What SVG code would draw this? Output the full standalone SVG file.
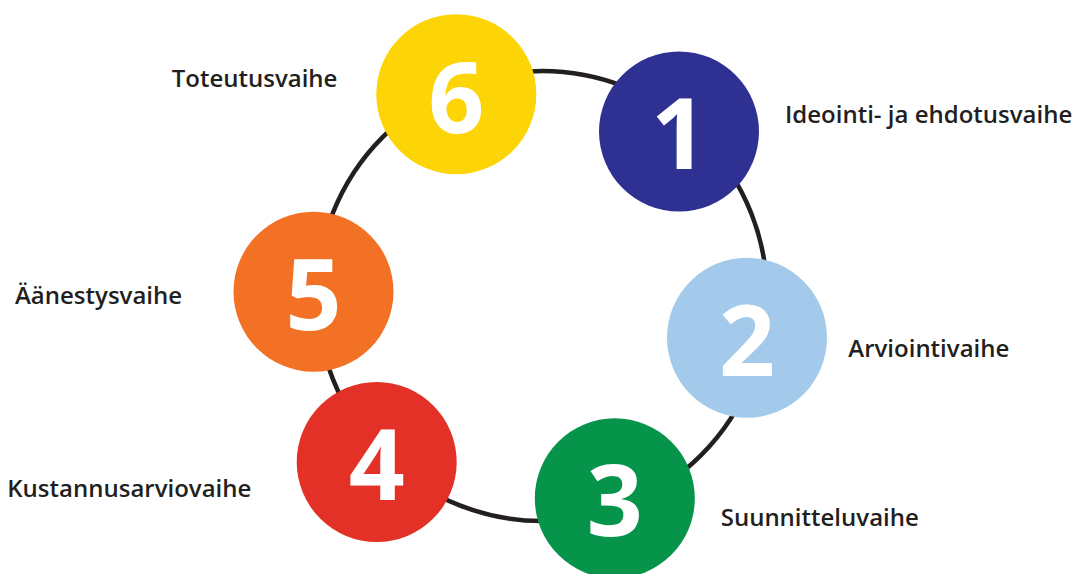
<svg xmlns="http://www.w3.org/2000/svg" width="1078" height="574" viewBox="0 0 1078 574">
<style>
.lbl{font-family:"Open Sans","Liberation Sans",sans-serif;font-weight:600;font-size:24px;fill:#231f20}
.num{font-family:"Open Sans","Liberation Sans",sans-serif;font-weight:700;font-size:98px;fill:#ffffff;text-anchor:middle}
</style>
<rect width="1078" height="574" fill="#ffffff"/>
<g id="connectors">
<circle cx="542" cy="296" r="225" fill="none" stroke="#231f20" stroke-width="4.5"/>
</g>
<g id="node6">
<circle cx="456.3" cy="94.2" r="80" fill="#fdd405"/>
<text class="num" x="456.3" y="133">6</text>
<text class="lbl" x="171.7" y="87.3">Toteutusvaihe</text>
</g>
<g id="node1">
<circle cx="679" cy="131.5" r="80" fill="#2e3192"/>
<text class="num" x="679" y="169.3">1</text>
<text class="lbl" x="785" y="122.7">Ideointi- ja ehdotusvaihe</text>
</g>
<g id="node2">
<circle cx="747" cy="337.7" r="80" fill="#a3caeb"/>
<text class="num" x="747" y="375.7">2</text>
<text class="lbl" x="848.3" y="356.7">Arviointivaihe</text>
</g>
<g id="node3">
<circle cx="614.8" cy="498.3" r="80" fill="#06934a"/>
<text class="num" x="614.8" y="536.3">3</text>
<text class="lbl" x="720.7" y="526">Suunnitteluvaihe</text>
</g>
<g id="node4">
<circle cx="376.7" cy="462" r="80" fill="#e43127"/>
<text class="num" x="376.7" y="500">4</text>
<text class="lbl" x="7.3" y="497.3">Kustannusarviovaihe</text>
</g>
<g id="node5">
<circle cx="313.5" cy="291.7" r="80" fill="#f37124"/>
<text class="num" x="313.5" y="329.7">5</text>
<text class="lbl" x="15" y="304">Äänestysvaihe</text>
</g>
</svg>
